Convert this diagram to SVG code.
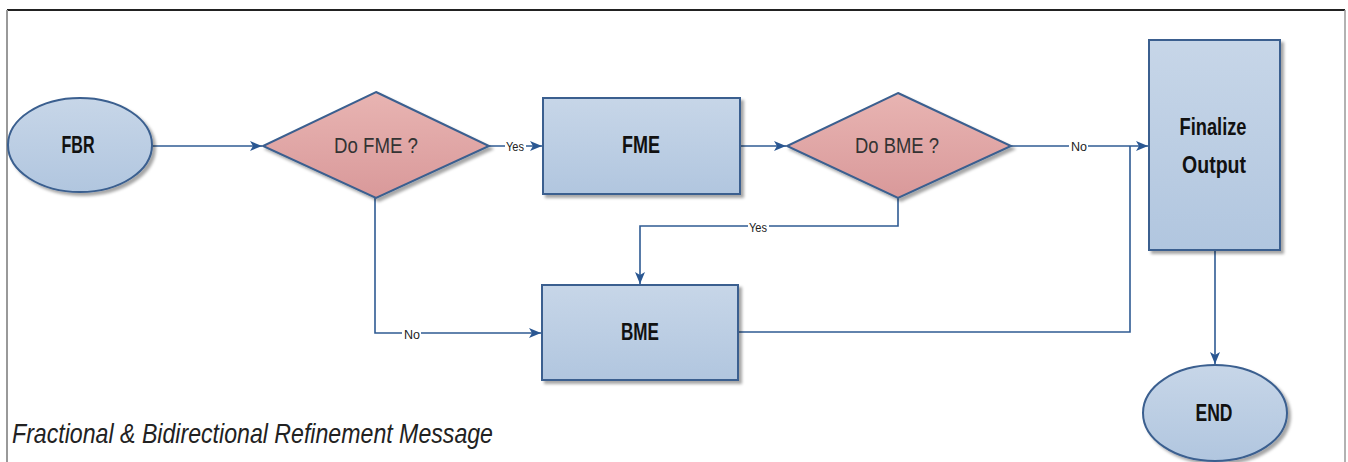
<svg xmlns="http://www.w3.org/2000/svg" width="1348" height="462" viewBox="0 0 1348 462">
<style>
.box{fill:url(#gb);stroke:#3a5f8f;stroke-width:2;filter:url(#sh)}
.dia{fill:url(#gr);stroke:#3a5f8f;stroke-width:2;filter:url(#sh)}
.t{font-family:"Liberation Sans",Arial,sans-serif;font-weight:bold;font-size:23px;fill:#111;text-anchor:middle;dominant-baseline:central}
.q{font-family:"Liberation Sans",Arial,sans-serif;font-size:22px;fill:#333;text-anchor:middle;dominant-baseline:central}
.lbl{font-family:"Liberation Sans",Arial,sans-serif;font-size:13px;fill:#222;text-anchor:middle;dominant-baseline:central}
.c{fill:none;stroke:#2f5b93;stroke-width:1.6}
.cap{font-family:"Liberation Sans",Arial,sans-serif;font-style:italic;font-size:28px;fill:#222}
</style>
<defs>
<linearGradient id="gb" x1="0" y1="0" x2="0" y2="1"><stop offset="0" stop-color="#c7d6e8"/><stop offset="1" stop-color="#b1c6df"/></linearGradient>
<linearGradient id="gr" x1="0" y1="0" x2="0" y2="1"><stop offset="0" stop-color="#e8b4b2"/><stop offset="1" stop-color="#d9999a"/></linearGradient>
<filter id="sh" x="-10%" y="-10%" width="130%" height="130%"><feDropShadow dx="3" dy="3" stdDeviation="1.5" flood-color="#000" flood-opacity="0.35"/></filter>
<marker id="ah" viewBox="0 0 12 10" refX="12" refY="5" markerWidth="12" markerHeight="10" markerUnits="userSpaceOnUse" orient="auto"><path d="M0,0 L12,5 L0,10 L3,5 Z" fill="#2a5792"/></marker>
</defs>
<rect width="1348" height="462" fill="#fff"/>
<g id="frame">
<line x1="7" y1="10" x2="1345" y2="10" stroke="#222" stroke-width="2"/>
<line x1="7" y1="10" x2="7" y2="462" stroke="#999" stroke-width="2"/>
<line x1="1345" y1="10" x2="1345" y2="462" stroke="#999" stroke-width="1.5"/>
</g>
<g id="connectors">
<line class="c" x1="152" y1="146" x2="262" y2="146" marker-end="url(#ah)"/>
<line class="c" x1="489" y1="146" x2="542" y2="146" marker-end="url(#ah)"/>
<line class="c" x1="740" y1="146" x2="786" y2="146" marker-end="url(#ah)"/>
<line class="c" x1="1011" y1="146" x2="1148" y2="146" marker-end="url(#ah)"/>
<polyline class="c" points="898,198 898,226 640,226 640,284" marker-end="url(#ah)"/>
<polyline class="c" points="375,198 375,333 541,333" marker-end="url(#ah)"/>
<polyline class="c" points="738,332 1130,332 1130,146"/>
<line class="c" x1="1215" y1="250" x2="1215" y2="364" stroke="#7f9cc4" marker-end="url(#ah)"/>
<rect x="505" y="139" width="21" height="14" fill="#fff"/>
<text class="lbl" x="515" y="146" textLength="18" lengthAdjust="spacingAndGlyphs">Yes</text>
<rect x="1069" y="139" width="19" height="14" fill="#fff"/>
<text class="lbl" x="1079" y="146" textLength="16" lengthAdjust="spacingAndGlyphs">No</text>
<rect x="748" y="219" width="21" height="14" fill="#fff"/>
<text class="lbl" x="758" y="227" textLength="18" lengthAdjust="spacingAndGlyphs">Yes</text>
<rect x="402" y="326" width="19" height="14" fill="#fff"/>
<text class="lbl" x="412" y="334" textLength="16" lengthAdjust="spacingAndGlyphs">No</text>
</g>
<g id="FBR">
<ellipse class="box" cx="80" cy="145" rx="72" ry="47"/>
<text class="t" x="78" y="145" textLength="33" lengthAdjust="spacingAndGlyphs">FBR</text>
</g>
<g id="DoFME">
<polygon class="dia" points="376,92 489,146 376,198 263,146"/>
<text class="q" x="376" y="145" textLength="84" lengthAdjust="spacingAndGlyphs">Do FME ?</text>
</g>
<g id="FME">
<rect class="box" x="543" y="98" width="197" height="96"/>
<text class="t" x="641" y="145" textLength="38" lengthAdjust="spacingAndGlyphs">FME</text>
</g>
<g id="DoBME">
<polygon class="dia" points="898,93 1011,146 898,198 787,146"/>
<text class="q" x="897" y="145" textLength="84" lengthAdjust="spacingAndGlyphs">Do BME ?</text>
</g>
<g id="BME">
<rect class="box" x="542" y="285" width="196" height="95"/>
<text class="t" x="640" y="332" textLength="38" lengthAdjust="spacingAndGlyphs">BME</text>
</g>
<g id="Finalize">
<rect class="box" x="1149" y="40" width="131" height="210"/>
<text class="t" x="1213" y="127" textLength="67" lengthAdjust="spacingAndGlyphs">Finalize</text>
<text class="t" x="1214" y="165" textLength="64" lengthAdjust="spacingAndGlyphs">Output</text>
</g>
<g id="END">
<ellipse class="box" cx="1215" cy="413" rx="72" ry="48"/>
<text class="t" x="1214" y="413" textLength="37" lengthAdjust="spacingAndGlyphs">END</text>
</g>
<text class="cap" x="12" y="443" textLength="481" lengthAdjust="spacingAndGlyphs">Fractional &amp; Bidirectional Refinement Message</text>
</svg>
